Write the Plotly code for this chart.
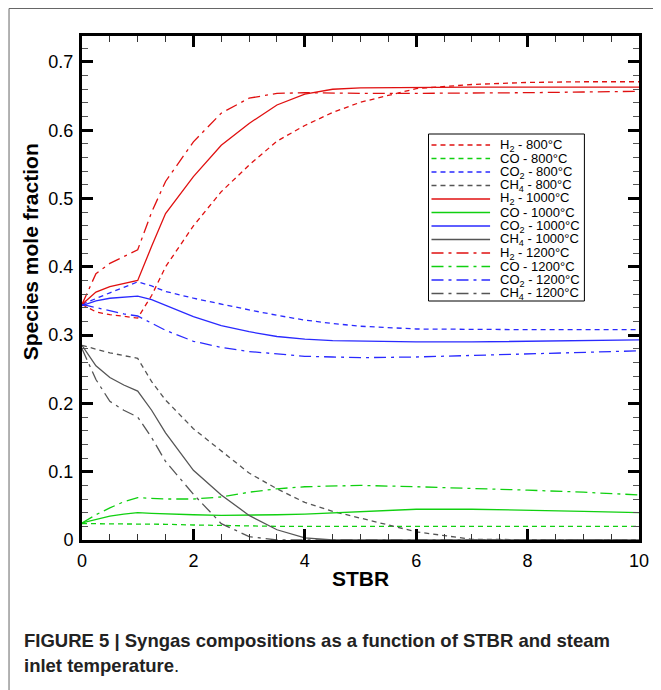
import plotly.graph_objects as go

# ---------------- data ----------------
stbr = [0, 0.25, 0.5, 0.75, 1, 1.25, 1.5, 2, 2.5, 3, 3.5, 4, 4.5, 5, 6, 7, 8, 9, 10]

h2_800 = [0.345, 0.334, 0.330, 0.327, 0.325, 0.358, 0.400, 0.460, 0.510, 0.549, 0.584, 0.607, 0.626, 0.641, 0.661, 0.667, 0.670, 0.671, 0.671]
co_800 = [0.024, 0.024, 0.024, 0.024, 0.024, 0.023, 0.023, 0.022, 0.021, 0.021, 0.020, 0.020, 0.020, 0.020, 0.020, 0.020, 0.020, 0.020, 0.020]
co2_800 = [0.345, 0.354, 0.362, 0.370, 0.378, 0.372, 0.364, 0.354, 0.345, 0.337, 0.329, 0.322, 0.317, 0.313, 0.309, 0.308, 0.308, 0.308, 0.308]
ch4_800 = [0.285, 0.279, 0.274, 0.270, 0.266, 0.232, 0.205, 0.163, 0.130, 0.098, 0.075, 0.055, 0.042, 0.032, 0.012, 0.001, 0.0, 0.0, 0.0]

h2_1000 = [0.345, 0.363, 0.371, 0.376, 0.380, 0.430, 0.478, 0.532, 0.578, 0.610, 0.637, 0.653, 0.660, 0.662, 0.663, 0.663, 0.663, 0.663, 0.663]
co_1000 = [0.025, 0.030, 0.035, 0.038, 0.040, 0.039, 0.038, 0.037, 0.036, 0.036, 0.037, 0.038, 0.040, 0.042, 0.045, 0.045, 0.044, 0.042, 0.040]
co2_1000 = [0.343, 0.350, 0.354, 0.356, 0.357, 0.352, 0.344, 0.327, 0.314, 0.305, 0.298, 0.294, 0.292, 0.291, 0.290, 0.290, 0.291, 0.292, 0.293]
ch4_1000 = [0.285, 0.255, 0.238, 0.227, 0.218, 0.190, 0.157, 0.102, 0.066, 0.036, 0.015, 0.003, 0.0, 0.0, 0.0, 0.0, 0.0, 0.0, 0.0]

h2_1200 = [0.345, 0.390, 0.405, 0.415, 0.425, 0.480, 0.525, 0.583, 0.625, 0.647, 0.654, 0.655, 0.654, 0.654, 0.654, 0.654, 0.655, 0.656, 0.657]
co_1200 = [0.025, 0.037, 0.047, 0.056, 0.062, 0.061, 0.060, 0.060, 0.063, 0.070, 0.075, 0.078, 0.079, 0.080, 0.078, 0.076, 0.073, 0.070, 0.066]
co2_1200 = [0.345, 0.340, 0.335, 0.331, 0.328, 0.317, 0.307, 0.291, 0.282, 0.276, 0.272, 0.269, 0.268, 0.267, 0.268, 0.270, 0.272, 0.274, 0.277]
ch4_1200 = [0.280, 0.235, 0.203, 0.190, 0.180, 0.150, 0.115, 0.067, 0.024, 0.005, 0.0, 0.0, 0.0, 0.0, 0.0, 0.0, 0.0, 0.0, 0.0]

series_names = [
    "H<sub>2</sub> - 800°C", "CO - 800°C", "CO<sub>2</sub> - 800°C", "CH<sub>4</sub> - 800°C",
    "H<sub>2</sub> - 1000°C", "CO - 1000°C", "CO<sub>2</sub> - 1000°C", "CH<sub>4</sub> - 1000°C",
    "H<sub>2</sub> - 1200°C", "CO - 1200°C", "CO<sub>2</sub> - 1200°C", "CH<sub>4</sub> - 1200°C",
]
series_values = [h2_800, co_800, co2_800, ch4_800,
                 h2_1000, co_1000, co2_1000, ch4_1000,
                 h2_1200, co_1200, co2_1200, ch4_1200]

x_tickvals = [0, 2, 4, 6, 8, 10]
y_tickvals = [0, 0.1, 0.2, 0.3, 0.4, 0.5, 0.6, 0.7]
y_ticktext = ["0", "0.1", "0.2", "0.3", "0.4", "0.5", "0.6", "0.7"]

x_title = "STBR"
y_title = "Species mole fraction"
caption_1 = "<b>FIGURE 5 | Syngas compositions as a function of STBR and steam</b>"
caption_2 = "<b>inlet temperature</b>."

# ---------------- styles ----------------
RED, GREEN, BLUE, GRAY = "#e01010", "#10d010", "#2a2aff", "#555555"
species_colors = [RED, GREEN, BLUE, GRAY]
DASH = "5px,4px"
DASHDOT = "12px,5px,3px,5px"
temp_dashes = [DASH, "solid", DASHDOT]

OFF = 8  # page body margin of the html page
W, H = 661 - OFF, 690 - OFF
L, R, T, B = 82 - OFF, 18, 36 - OFF, 150
PW, PH = W - L - R, H - T - B


def px_x(px):
    """window pixel x -> paper fraction"""
    return (px - OFF - L) / PW


def px_y(py):
    """window pixel y -> paper fraction"""
    return (H - B - (py - OFF)) / PH


fig = go.Figure()
for i, (name, vals) in enumerate(zip(series_names, series_values)):
    fig.add_trace(go.Scatter(
        x=stbr, y=vals, mode="lines", name=name, showlegend=False,
        line=dict(color=species_colors[i % 4], dash=temp_dashes[i // 4], width=1.3),
    ))

shapes = []
annotations = []

# legend box (drawn manually to match compact spacing)
shapes.append(dict(type="rect", xref="paper", yref="paper",
                   x0=px_x(431), x1=px_x(588), y0=px_y(301), y1=px_y(134),
                   line=dict(color="black", width=1), fillcolor="white", layer="above"))
for i, name in enumerate(series_names):
    yy = px_y(145 + 13.5 * i)
    shapes.append(dict(type="line", xref="paper", yref="paper",
                       x0=px_x(434), x1=px_x(493), y0=yy, y1=yy,
                       line=dict(color=species_colors[i % 4], dash=temp_dashes[i // 4], width=1.3),
                       layer="above"))
    annotations.append(dict(xref="paper", yref="paper", x=px_x(501), y=yy,
                            xanchor="left", yanchor="middle", showarrow=False,
                            text=name, font=dict(family="Liberation Sans, Arial", size=13, color="black")))

# outer figure frame
shapes.append(dict(type="rect", xref="paper", yref="paper",
                   x0=px_x(8.5), x1=px_x(720), y0=px_y(760), y1=px_y(8.5),
                   line=dict(color="#666666", width=1), layer="below"))

# axis titles
annotations.append(dict(xref="paper", yref="paper", x=px_x(30), y=px_y(252),
                        text="<b>%s</b>" % y_title, textangle=-90, showarrow=False,
                        xanchor="center", yanchor="middle",
                        font=dict(family="Liberation Sans, Arial", size=21, color="black")))
annotations.append(dict(xref="paper", yref="paper", x=px_x(362), y=px_y(578),
                        text="<b>%s</b>" % x_title, showarrow=False,
                        xanchor="center", yanchor="middle",
                        font=dict(family="Liberation Sans, Arial", size=21, color="black")))

# caption
cap_font = dict(family="Liberation Sans Narrow, Arial Narrow, Liberation Sans", size=18.5, color="#222222")
annotations.append(dict(xref="paper", yref="paper", x=px_x(22), y=px_y(640), text=caption_1,
                        showarrow=False, xanchor="left", yanchor="middle", font=cap_font))
annotations.append(dict(xref="paper", yref="paper", x=px_x(22), y=px_y(665), text=caption_2,
                        showarrow=False, xanchor="left", yanchor="middle", font=cap_font))

axis_common = dict(
    showline=True, linecolor="black", linewidth=3, mirror="ticks",
    ticks="inside", ticklen=11, tickwidth=2.5, tickcolor="black",
    showgrid=False, zeroline=False, ticklabelstandoff=2,
    tickfont=dict(family="Liberation Sans, Arial", size=18, color="black"),
)

fig.update_layout(
    width=W, height=H, autosize=False,
    margin=dict(l=L, r=R, t=T, b=B, pad=0),
    paper_bgcolor="white", plot_bgcolor="white",
    xaxis=dict(range=[0, 10], tickvals=x_tickvals,
               minor=dict(ticks="inside", ticklen=6, tickwidth=1.2, tickcolor="#333333", dtick=0.5),
               **axis_common),
    yaxis=dict(range=[0, 0.738], tickvals=y_tickvals, ticktext=y_ticktext,
               minor=dict(ticks="inside", ticklen=6, tickwidth=1.2, tickcolor="#555555", dtick=0.02),
               **axis_common),
    shapes=shapes, annotations=annotations,
)

fig.write_html("out.html")
